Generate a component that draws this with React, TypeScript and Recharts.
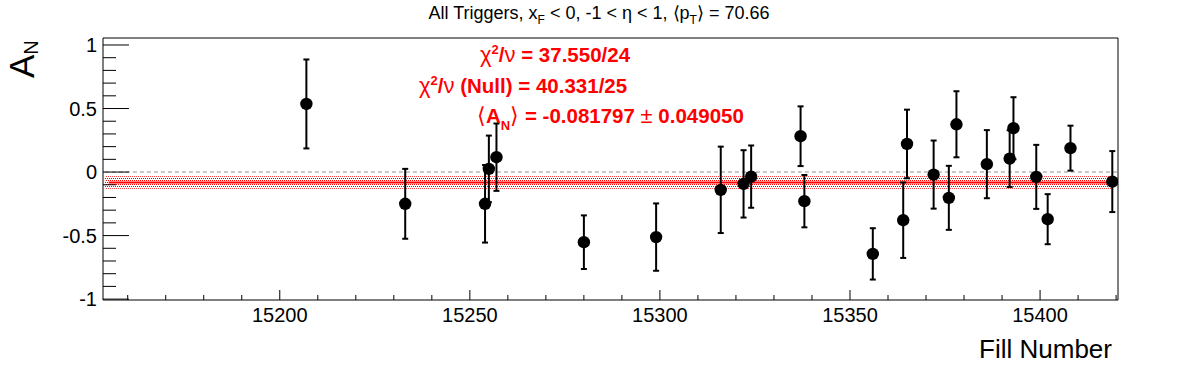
import React from 'react';
import { ComposedChart, XAxis, YAxis, Scatter, ErrorBar, Line, Area } from 'recharts';

// ---- data ----
const fills = [15207, 15233, 15254, 15255, 15257, 15280, 15299, 15316, 15322, 15324, 15337, 15338, 15356, 15364, 15365, 15372, 15376, 15378, 15386, 15392, 15393, 15399, 15402, 15408, 15419];
const asym = [0.536, -0.25, -0.25, 0.025, 0.117, -0.552, -0.512, -0.14, -0.093, -0.036, 0.282, -0.229, -0.644, -0.379, 0.221, -0.02, -0.203, 0.376, 0.062, 0.106, 0.345, -0.038, -0.371, 0.188, -0.075];
const errs = [0.35, 0.275, 0.305, 0.262, 0.265, 0.211, 0.265, 0.34, 0.265, 0.245, 0.235, 0.206, 0.202, 0.297, 0.27, 0.268, 0.252, 0.26, 0.268, 0.223, 0.244, 0.252, 0.197, 0.177, 0.24];
const meanAN = -0.081797;
const meanErr = 0.04905;
const fitFills = [15155, 15419];
const bandFills = [15154, 15419];
const zeroFills = [15154, 15420.5];

const xDomain = [15153.5, 15420.5];
const yDomain = [-1.007, 1.055];
const xMajorTicks = [15200, 15250, 15300, 15350, 15400];
const xAllTicks = [15160, 15170, 15180, 15190, 15200, 15210, 15220, 15230, 15240, 15250, 15260, 15270, 15280, 15290, 15300, 15310, 15320, 15330, 15340, 15350, 15360, 15370, 15380, 15390, 15400, 15410, 15420];
const yAllTicks = [-1, -0.9, -0.8, -0.7, -0.6, -0.5, -0.4, -0.3, -0.2, -0.1, 0, 0.1, 0.2, 0.3, 0.4, 0.5, 0.6, 0.7, 0.8, 0.9, 1];
const yTickLabels: Record<string, string> = { '-1': '-1', '-0.5': '-0.5', '0': '0', '0.5': '0.5', '1': '1' };

const points = fills.map((f, i) => ({ fill: f, a: asym[i], e: errs[i] }));
const fitData = fitFills.map((f) => ({ fill: f, v: meanAN }));
const bandData = bandFills.map((f) => ({ fill: f, r: [meanAN - meanErr, meanAN + meanErr] }));
const zeroData = zeroFills.map((f) => ({ fill: f, z: 0 }));

const FONT = '"Liberation Sans", Arial, Helvetica, sans-serif';
const RED = '#ff0000';

const XTick = (props: any) => {
  const { x, y, payload } = props;
  const major = xMajorTicks.includes(payload.value);
  return (
    <g>
      <line x1={x} y1={y} x2={x} y2={y - (major ? 10 : 5)} stroke="#000" strokeWidth={1} />
      {major && (
        <text x={x} y={y + 22} textAnchor="middle" fontFamily={FONT} fontSize={20} fill="#000">
          {payload.value}
        </text>
      )}
    </g>
  );
};

const YTick = (props: any) => {
  const { x, y, payload } = props;
  const key = String(payload.value);
  const major = key in yTickLabels;
  return (
    <g>
      <line x1={x} y1={y} x2={x + (major ? 26 : 13)} y2={y} stroke="#000" strokeWidth={1} />
      {major && (
        <text x={x - 6} y={y + 7} textAnchor="end" fontFamily={FONT} fontSize={20} fill="#000">
          {yTickLabels[key]}
        </text>
      )}
    </g>
  );
};

const Dot = (props: any) => {
  const { cx, cy } = props;
  if (cx == null || cy == null) return null;
  return <circle cx={cx} cy={cy} r={6.2} fill="#000" />;
};

export default function App() {
  return (
    <div style={{ position: 'absolute', left: 0, top: 0, width: 1196, height: 372, background: '#fff' }}>
      <svg width={0} height={0} style={{ position: 'absolute' }}>
        <defs>
          <pattern id="dots" x={0} y={0} width={2} height={4} patternUnits="userSpaceOnUse">
            <rect x={0} y={0} width={1} height={1} fill={RED} />
            <rect x={1} y={2} width={1} height={1} fill={RED} />
          </pattern>
        </defs>
      </svg>
      <div style={{ position: 'absolute', left: 0, top: 0 }}>
        <ComposedChart width={1196} height={372} margin={{ top: 0, right: 0, bottom: 0, left: 0 }}>
          <XAxis
            xAxisId="b"
            dataKey="fill"
            type="number"
            domain={xDomain}
            allowDataOverflow
            ticks={xAllTicks}
            interval={0}
            orientation="bottom"
            height={72}
            tickSize={0}
            tickMargin={0}
            tickLine={false}
            axisLine={{ stroke: '#000', strokeWidth: 1 }}
            tick={<XTick />}
          />
          <XAxis
            xAxisId="t"
            dataKey="fill"
            type="number"
            domain={xDomain}
            allowDataOverflow
            orientation="top"
            height={38}
            tick={false}
            tickLine={false}
            axisLine={{ stroke: '#000', strokeWidth: 1 }}
          />
          <YAxis
            yAxisId="l"
            type="number"
            domain={yDomain}
            allowDataOverflow
            ticks={yAllTicks}
            interval={0}
            orientation="left"
            width={103}
            tickSize={0}
            tickMargin={0}
            tickLine={false}
            axisLine={{ stroke: '#000', strokeWidth: 1 }}
            tick={<YTick />}
          />
          <YAxis
            yAxisId="r"
            type="number"
            domain={yDomain}
            allowDataOverflow
            orientation="right"
            width={78}
            tick={false}
            tickLine={false}
            axisLine={{ stroke: '#000', strokeWidth: 1 }}
          />
          <Line
            xAxisId="b"
            yAxisId="l"
            data={zeroData}
            dataKey="z"
            type="linear"
            stroke="#c8c8c8"
            strokeWidth={2}
            strokeDasharray="4 3"
            dot={false}
            activeDot={false}
            isAnimationActive={false}
          />
          <Area
            xAxisId="b"
            yAxisId="l"
            data={bandData}
            dataKey="r"
            type="linear"
            stroke="none"
            fill="url(#dots)"
            fillOpacity={1}
            dot={false}
            activeDot={false}
            isAnimationActive={false}
          />
          <Line
            xAxisId="b"
            yAxisId="l"
            data={fitData}
            dataKey="v"
            type="linear"
            stroke={RED}
            strokeWidth={2}
            dot={false}
            activeDot={false}
            isAnimationActive={false}
          />
          <Scatter
            xAxisId="b"
            yAxisId="l"
            data={points}
            dataKey="a"
            shape={<Dot />}
            isAnimationActive={false}
          >
            <ErrorBar dataKey="e" direction="y" width={3} stroke="#000" strokeWidth={2} isAnimationActive={false} />
          </Scatter>
        </ComposedChart>
      </div>
      <svg width={1196} height={372} style={{ position: 'absolute', left: 0, top: 0, pointerEvents: 'none' }}>
        <text x={599} y={19} textAnchor="middle" fontFamily={FONT} fontSize={18} fill="#000">
          All Triggers, x<tspan fontSize={12} dy={5}>F</tspan>
          <tspan dy={-5}> &lt; 0, -1 &lt; η &lt; 1, ⟨p</tspan>
          <tspan fontSize={12} dy={5}>T</tspan>
          <tspan dy={-5}>⟩ = 70.66</tspan>
        </text>
        <text x={480} y={62} fontFamily={FONT} fontSize={20.5} fontWeight="bold" fill={RED}>
          <tspan fontWeight="normal" fontSize={22}>χ</tspan>
          <tspan fontSize={13} dy={-8}>2</tspan>
          <tspan dy={8}>/</tspan>
          <tspan fontWeight="normal" fontSize={22}>ν</tspan> = 37.550/24
        </text>
        <text x={419} y={93} fontFamily={FONT} fontSize={20.5} fontWeight="bold" fill={RED}>
          <tspan fontWeight="normal" fontSize={22}>χ</tspan>
          <tspan fontSize={13} dy={-8}>2</tspan>
          <tspan dy={8}>/</tspan>
          <tspan fontWeight="normal" fontSize={22}>ν</tspan> (Null) = 40.331/25
        </text>
        <text x={477} y={123} fontFamily={FONT} fontSize={20.5} fontWeight="bold" fill={RED}>
          <tspan fontWeight="normal" fontSize={22}>⟨</tspan>A<tspan fontSize={13} dy={7}>N</tspan>
          <tspan dy={-7} fontWeight="normal" fontSize={22}>⟩</tspan> = -0.081797 <tspan fontWeight="normal" fontSize={22}>±</tspan> 0.049050
        </text>
        <text transform="translate(34,78) rotate(-90)" x={0} y={0} fontFamily={FONT} fontSize={35} fill="#000">
          A<tspan fontSize={20} dy={4}>N</tspan>
        </text>
        <text x={1112} y={358} textAnchor="end" fontFamily={FONT} fontSize={26} fill="#000">
          Fill Number
        </text>
      </svg>
    </div>
  );
}
